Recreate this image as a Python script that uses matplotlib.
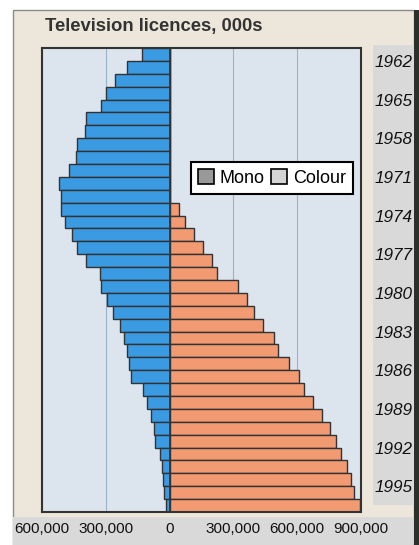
import numpy as np
import matplotlib as mpl
mpl.use('Agg')
import matplotlib.pyplot as plt
from matplotlib.patches import Rectangle, Patch

plt.rcParams['font.family'] = ['Liberation Sans', 'DejaVu Sans']

# licences in thousands, one bar per row, top to bottom
mono = [128, 201, 257, 299, 324, 392, 398, 434, 439, 475, 518, 511,
        511, 494, 457, 434, 392, 328, 324, 293, 265, 232, 215, 202,
        193, 182, 125, 108, 89, 72, 67, 47, 36, 31, 24, 19]
colour = [0, 0, 0, 0, 0, 0, 0, 0, 0, 0, 0, 0,
          42, 73, 114, 157, 201, 223, 323, 362, 398, 439, 489, 512,
          561, 608, 633, 675, 718, 753, 782, 807, 832, 851, 868, 896]
year_labels = ['1962', '1965', '1958', '1971', '1974', '1977',
               '1980', '1983', '1986', '1989', '1992', '1995']
x_ticks = [-600000, -300000, 0, 300000, 600000, 900000]
x_ticklabels = ['600,000', '300,000', '0', '300,000', '600,000', '900,000']

mono = np.array(mono) * 1000
colour = np.array(colour) * 1000
rows = np.arange(len(mono))

fig = plt.figure(figsize=(4.19, 5.45), dpi=100)
fig.patch.set_facecolor('white')

# background panels (drawn under the axes)
fig.patches.append(Rectangle((13/419, 0), 401/419, 535/545, transform=fig.transFigure,
                             facecolor='#ece7da', edgecolor='#8a8a8a', lw=1, zorder=-5))
fig.patches.append(Rectangle((414/419, 0), 5/419, 535/545, transform=fig.transFigure,
                             facecolor='#2b302b', edgecolor='none', zorder=-4))
fig.patches.append(Rectangle((373/419, 40/545), 41/419, 460/545, transform=fig.transFigure,
                             facecolor='#d9d9d9', edgecolor='none', zorder=-4))
fig.patches.append(Rectangle((13/419, 0), 400/419, 28/545, transform=fig.transFigure,
                             facecolor='#d9d9d9', edgecolor='none', zorder=-4))

ax = fig.add_axes([42/419, 1 - 512/545, 319/419, 464/545])
ax.set_facecolor('#dce4ee')

ax.barh(rows, -mono, height=1.0, color='#3a9be3', edgecolor='#333333', lw=1.0, zorder=2)
ax.barh(rows, colour, height=1.0, color='#f29a72', edgecolor='#333333', lw=1.0, zorder=2)
ax.axvline(0, color='#333333', lw=1.2, zorder=3)

ax.set_xlim(-600000, 900000)
ax.set_ylim(len(mono) - 0.5, -0.5)

ax.set_xticks(x_ticks)
ax.set_xticklabels(x_ticklabels)
ax.grid(axis='x', color='#9db3c8', lw=0.8, zorder=1)
ax.set_axisbelow(True)

ax.set_yticks(np.arange(len(year_labels)) * 3 + 0.5)
ax.set_yticklabels(year_labels, fontstyle='italic')
ax.tick_params(axis='y', left=False, labelleft=False, right=True, labelright=True,
               length=0, pad=10, labelsize=12.3, labelcolor='#111111')
ax.tick_params(axis='x', length=0, pad=7, labelsize=11, labelcolor='#111111')

for s in ax.spines.values():
    s.set_color('#333333')
    s.set_linewidth(1.5)

handles = [Patch(facecolor='#999999', edgecolor='black', lw=1.2),
           Patch(facecolor='#d4d4d4', edgecolor='black', lw=1.2)]
leg = ax.legend(handles, ['Mono', 'Colour'], ncol=2, loc='upper left',
                bbox_to_anchor=(0.467, 0.754), borderaxespad=0, fontsize=13,
                handlelength=0.9, handleheight=0.9, handletextpad=0.3,
                columnspacing=0.35, fancybox=False, framealpha=1,
                borderpad=0.4)
leg.get_frame().set_edgecolor('black')
leg.get_frame().set_linewidth(1.5)
leg.set_zorder(5)

fig.text(45/419, 1 - 27/545, 'Television licences, 000s', fontsize=13.3,
         fontweight='bold', color='#333333', ha='left', va='center')

fig.savefig('out.png', dpi=100)
